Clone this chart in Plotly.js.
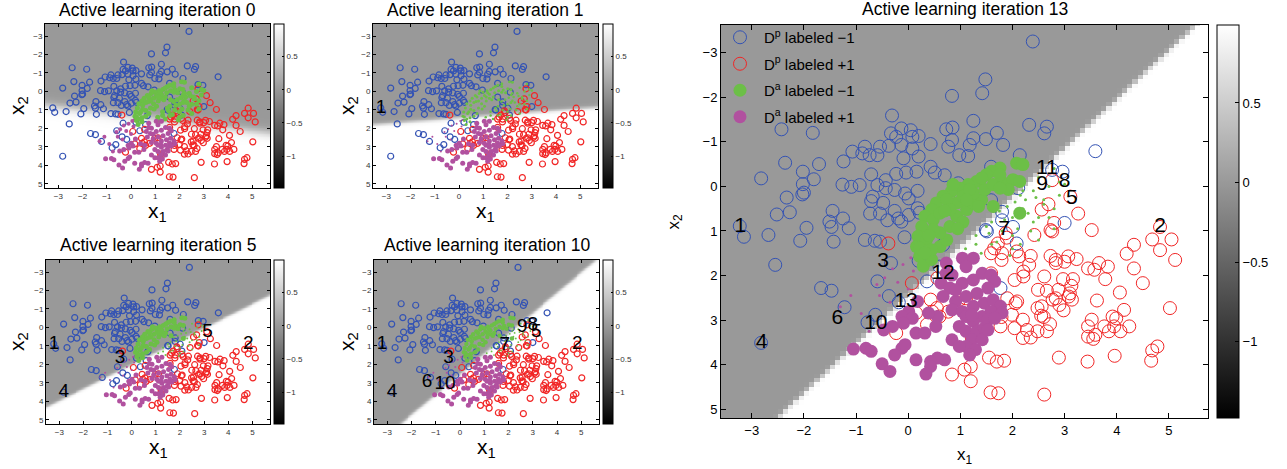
<!DOCTYPE html>
<html><head><meta charset="utf-8">
<script src="https://cdn.plot.ly/plotly-3.0.1.min.js"></script>
<style>html,body{margin:0;padding:0;background:#fff}#chart{width:1287px;height:469px}</style>
</head><body><div id="chart"></div>
<script>
// ---------------- data ----------------
const iterations = [0, 1, 5, 10, 13];
// decision boundary (two points on the line) and its softness
const boundaryStartX = [-3.55, -3.55, -3.55, -2.42, -2.50];
const boundaryStartY = [0.75, 1.80, 4.35, 5.20, 5.19];
const boundaryEndX = [5.73, 5.73, 5.73, 5.60, 5.52];
const boundaryEndY = [2.27, 0.85, -1.75, -3.65, -3.62];
const boundarySoftness = [0.15, 0.06, 0.04, 0.04, 0.02];

// D^p labeled -1 (blue open circles)
const dpNegX = [2.39,1.48,1.42,0.84,-0.31,1.25,-2.43,-1.83,2.32,2.66,2.61,0.73,0.85,-0.13,0.05,-0.33,-0.23,0.08,0.20,1.70,1.49,1.25,0.84,-0.13,-0.37,-0.54,-0.83,-1.07,-0.88,-0.74,-0.59,0.08,0.43,0.20,-0.09,0.77,1.18,0.98,1.15,1.82,2.14,3.59,-2.36,-1.71,-1.24,0.43,0.51,0.70,1.59,-2.02,-2.82,-1.81,-0.71,-0.23,-0.04,0.16,-0.43,-0.59,-0.43,-0.26,-1.26,-1.09,-0.93,-2.02,-2.00,-2.33,-2.03,-0.06,0.18,0.01,-0.68,-0.71,-0.48,-0.26,-0.73,-0.54,0.01,0.18,0.22,0.96,1.59,2.11,1.80,2.76,2.96,3.00,-2.52,-2.27,-1.45,-1.25,-1.51,-1.47,-1.14,-1.95,-3.23,-0.19,-0.13,-0.40,1.49,2.01,1.80,-3.15,-2.68,-2.07,-1.43,-0.83,-0.64,-0.54,-0.07,-2.55,-0.33,0.20,-0.59,-1.67,-1.47,-0.37,-1.22,-0.63,-0.78,-2.82,-0.18,0.36,0.67,1.51,2.08,1.77,0.60];
const dpNegY = [-3.25,-2.40,-2.09,-2.03,-1.59,-1.47,-1.28,-1.20,-1.38,-1.34,-1.19,-1.28,-1.32,-1.30,-1.26,-1.19,-1.11,-1.11,-1.13,-1.20,-1.06,-1.08,-1.04,-0.93,-0.91,-0.89,-0.89,-0.78,-0.74,-0.70,-0.70,-0.85,-0.95,-0.67,-0.63,-0.89,-0.93,-0.70,-0.68,-0.93,-0.70,-0.79,-0.53,-0.50,-0.56,-0.44,-0.31,-0.25,-0.44,-0.33,-0.18,-0.16,-0.27,-0.28,-0.31,-0.33,-0.14,-0.03,0.04,0.08,-0.04,0.01,-0.03,-0.05,0.14,0.25,0.18,0.16,0.10,0.27,0.23,0.33,0.37,0.55,0.61,0.61,0.64,0.49,0.59,-0.07,0.31,0.04,0.57,-0.37,-0.33,0.82,0.63,0.58,0.55,0.72,0.79,0.91,0.94,0.93,0.89,0.72,0.79,0.76,0.98,0.91,0.76,1.13,1.09,1.22,1.24,1.20,1.22,1.24,1.14,1.76,1.72,1.67,2.13,2.28,2.34,2.46,2.71,2.88,3.05,3.51,2.60,2.13,1.31,1.01,1.28,2.28,1.80];

// D^p labeled +1 (red open circles)
const dpPosX = [2.76,2.56,2.69,3.26,3.11,2.80,2.73,2.42,3.52,4.83,4.68,5.05,1.87,2.76,4.83,5.12,4.33,4.19,4.33,3.83,3.66,3.45,3.57,3.23,3.07,3.00,2.83,2.73,2.83,3.78,4.50,4.06,4.14,5.02,3.62,3.16,3.13,2.97,3.10,3.14,3.08,2.88,2.83,2.90,2.98,2.61,2.49,2.66,2.77,2.56,2.48,2.55,2.60,2.72,2.66,2.48,2.35,2.28,2.20,1.99,2.04,2.09,2.06,1.90,2.21,2.04,2.21,2.32,2.35,2.13,2.08,1.79,1.80,1.65,1.59,1.72,1.89,3.95,3.92,3.99,3.76,3.85,4.07,4.24,3.96,4.68,4.78,4.66,3.45,3.45,3.59,3.55,3.52,3.44,2.89,2.61,1.84,1.70,1.55,1.58,1.73,1.20,1.08,1.20,0.84,1.22,1.25,1.77,1.79,2.20,-0.23,0.36,0.43,0.55,0.46,0.07,-0.38,0.56,1.11,0.77,0.60,0.15,0.98,1.63,1.59];
const dpPosY = [-0.14,0.52,0.40,0.61,0.23,0.82,0.98,1.09,0.98,0.91,1.19,1.19,1.05,1.01,1.43,1.65,1.31,1.51,1.84,1.80,1.72,1.84,1.87,1.63,1.57,1.69,1.72,1.56,1.65,2.08,2.17,2.38,2.77,2.73,2.56,2.08,2.23,2.08,2.40,2.54,2.47,2.32,2.51,2.66,2.78,2.02,2.32,2.34,2.54,2.69,2.73,2.90,2.93,3.09,3.25,3.25,3.39,3.22,2.99,2.88,3.18,2.58,2.62,2.51,2.02,2.10,1.91,1.76,1.56,1.57,1.46,1.65,1.50,1.39,1.50,1.28,1.15,3.14,2.92,2.96,3.14,3.25,3.25,3.14,3.80,3.68,3.59,3.91,3.14,3.37,3.33,3.42,2.99,3.93,3.84,4.67,3.91,3.93,3.84,4.62,4.64,4.37,4.11,4.04,4.22,3.40,3.48,3.14,2.93,3.40,3.29,3.10,2.54,2.73,2.81,2.17,1.28,2.06,2.51,2.81,2.92,2.84,2.54,2.68,1.95];

// D^a labeled -1 (green filled)
const daNegX = [2.08,2.20,1.76,1.60,1.50,1.31,1.15,0.99,0.83,0.67,0.54,0.45,0.32,0.26,0.19,0.16,0.22,0.29,0.45,0.61,0.74,0.61,0.80,0.93,1.12,1.25,1.41,0.93,1.05,1.25,1.47,1.63,1.82,2.01,2.14,1.92,1.76,1.41,1.18,0.74,0.48,0.35,0.22,0.45,0.80,2.14,1.63,1.12,0.48,0.86,1.76,0.32,0.61,1.05,0.70,0.95,1.35,0.40];
const daNegY = [-0.52,-0.49,-0.41,-0.34,-0.26,-0.11,-0.04,0.04,0.11,0.22,0.37,0.52,0.67,0.90,1.12,1.35,1.57,1.79,1.64,1.35,1.20,1.04,0.90,0.67,0.52,0.37,0.30,0.37,0.22,0.15,0.07,-0.04,-0.08,-0.15,-0.11,0.07,0.04,-0.19,0.07,0.30,0.75,1.20,1.38,1.42,0.52,0.60,0.45,0.30,0.97,-0.04,-0.26,1.49,0.60,0.80,0.55,0.95,0.45,1.10];
// D^a labeled -1 lying past the final boundary (tiny dots at iteration 13)
const daNegTinyX = [1.75,1.90,2.05,2.25,2.45,2.60,1.60,1.85,2.30,1.55,1.70,2.00,2.35,2.80,1.95,2.15,2.50,2.90,3.00,1.40,2.50,2.70,2.90,2.40,2.60,2.80,2.20,2.00,2.40,2.10,1.80,1.60,2.50,2.70,2.15,2.20,2.00,1.30,1.10,2.80,1.20,1.50,1.30];
const daNegTinyY = [0.55,0.45,0.35,0.30,0.25,0.40,0.80,0.75,0.60,1.05,1.25,1.10,1.00,0.95,1.55,1.30,0.70,0.20,-0.05,1.50,-0.20,0.00,-0.10,0.10,0.30,0.50,0.50,0.70,0.80,0.95,1.00,1.30,1.20,0.70,0.20,0.10,1.40,1.30,1.40,-0.40,1.60,0.90,1.10];

// D^a labeled +1 (magenta filled)
const daPosX = [1.04,1.25,1.11,0.84,0.63,0.80,1.04,1.25,1.42,1.59,1.66,1.53,1.32,1.11,0.91,0.84,1.04,1.25,1.46,1.63,1.77,1.59,1.42,1.25,1.11,0.98,1.11,1.32,1.46,1.53,1.80,1.66,1.22,1.11,1.29,1.18,1.42,0.84,0.98,0.70,0.56,0.43,0.43,0.34,0.15,0.56,0.39,0.18,0.01,-0.12,0.08,-0.09,0.15,0.32,0.53,-0.12,-0.06,-0.26,-0.30,-0.47,-0.50,-0.35,-0.81,-0.71,-1.05,0.73,0.73,1.53,1.22,0.67,0.91];
const daPosY = [1.61,1.61,1.80,1.99,2.17,2.28,2.17,2.10,1.95,1.99,2.13,2.28,2.40,2.47,2.58,2.77,2.81,2.69,2.62,2.54,2.69,2.81,2.92,3.03,2.92,3.14,3.25,3.25,3.18,2.99,2.84,2.96,3.44,3.59,3.66,3.78,3.44,3.44,3.59,3.89,3.85,3.93,4.04,4.21,3.89,2.92,2.84,2.58,2.81,2.92,2.96,3.07,3.29,3.29,3.14,3.63,3.55,3.78,3.14,3.22,3.98,4.15,3.63,3.70,3.65,1.95,1.72,3.22,2.88,2.47,2.32];
// D^a labeled +1 lying past the final boundary (tiny dots at iteration 13)
const daPosTinyX = [-0.45,-0.30,-0.10,0.05,0.15,-0.60,-1.10,-0.20,0.00,-0.75,-0.35,0.10,-1.30,-0.90,-0.55];
const daPosTinyY = [2.05,1.85,1.75,1.60,1.55,2.20,2.45,2.15,2.30,3.25,2.60,1.90,2.70,2.85,2.45];

// queried points (numbers) and their label positions
const queryLabels = ["1","2","3","4","5","6","7","8","9","10","11","12","13"];
const queryX = [-3.22,4.83,-0.48,-2.81,3.14,-1.36,1.84,3.00,2.57,-0.62,2.66,0.67,-0.04];
const queryY = [0.90,0.90,1.69,3.51,0.27,2.96,0.98,-0.10,-0.03,3.09,-0.40,1.95,2.58];

const colorbarTicks = [0.5, 0, -0.5, -1];

// ---------------- layout constants ----------------
const W = 1287, H = 469;
const panels = [
  {x0:45, x1:270, y0:24, y1:188, cb:274, cbw:10, big:false, titleY:10, xtY:212, ytX:18},
  {x0:373, x1:598, y0:24, y1:188, cb:603, cbw:10, big:false, titleY:10, xtY:212, ytX:348},
  {x0:46, x1:270, y0:260, y1:424, cb:274, cbw:10, big:false, titleY:245, xtY:448, ytX:18},
  {x0:374, x1:599, y0:260, y1:424, cb:603, cbw:10, big:false, titleY:245, xtY:448, ytX:348},
  {x0:721, x1:1208, y0:25, y1:418, cb:1217, cbw:22, big:true, titleY:9, xtY:456, ytX:674}
];
// marker sizes of the D^a dots per panel: [main green, main magenta, tiny green, tiny magenta]
const daSizes = [[5,5,5,4],[3,5,2.5,2],[5,5,2,2],[4.5,5,1.8,2],[13,13,3,3]];
const ZMIN = -1.48, ZMAX = 0.99;
const BLUE = '#3453b4', RED = '#f12626', GREEN = '#6cbf47', MAG = '#b1519f';
const FONT = 'Liberation Sans, Arial, Helvetica, sans-serif';

function fx(p){return p/W;}
function fy(p){return 1 - p/H;}

function field(k, step){
  const ax = boundaryStartX[k], ay = boundaryStartY[k], bx = boundaryEndX[k], by = boundaryEndY[k];
  const dx = bx-ax, dy = by-ay, len = Math.hypot(dx,dy);
  const sd = (x,y) => ((x-ax)*dy - (y-ay)*dx)/len;
  const sgn = Math.sign(sd(5.5,5.0));
  const w = boundarySoftness[k];
  const gx = [], gy = [];
  for (let x = -3.75; x <= 5.95; x += step) gx.push(+x.toFixed(3));
  for (let y = -3.85; y <= 5.45; y += step) gy.push(+y.toFixed(3));
  const z = gy.map(y => gx.map(x => ZMAX/(1+Math.exp(-sgn*sd(x,y)/w))));
  return {gx, gy, z};
}

const traces = [];
const annotations = [];
const layout = {
  width: W, height: H, margin:{l:0,r:0,t:0,b:0},
  paper_bgcolor:'#fff', plot_bgcolor:'#fff',
  font:{family:FONT, color:'#000'},
  showlegend:true,
  legend:{x:fx(716), y:fy(21), xanchor:'left', yanchor:'top', bgcolor:'rgba(0,0,0,0)',
          font:{size:15, family:FONT, color:'#000'}, tracegroupgap:4, itemsizing:'trace', itemwidth:38},
  annotations
};

const qCount = {0:0, 1:1, 5:5, 10:10, 13:13};

panels.forEach((p, k) => {
  const it = iterations[k];
  const xa = k===0 ? 'x' : 'x'+(k+1);
  const ya = k===0 ? 'y' : 'y'+(k+1);
  const big = p.big;
  const tickSize = big ? 13 : 8;
  const f = field(k, big ? 0.1 : 0.04);
  traces.push({
    type:'heatmap', x:f.gx, y:f.gy, z:f.z, xaxis:xa, yaxis:ya,
    zmin:ZMIN, zmax:ZMAX, colorscale:[[0,'#000'],[1,'#fff']], zsmooth:false,
    hoverinfo:'skip', showscale:true,
    colorbar:{x:fx(p.cb), xanchor:'left', xpad:0, ypad:0, thickness:p.cbw, thicknessmode:'pixels',
      len:(p.y1-p.y0)/H, lenmode:'fraction', y:fy((p.y0+p.y1)/2), yanchor:'middle',
      tickvals:colorbarTicks, ticks:'inside', ticklen: big?4:2, tickcolor:'#000',
      outlinewidth:1, outlinecolor:'#000', tickfont:{size:tickSize, family:FONT, color:big?'#000':'#333'}}
  });
  const ms = big ? 13 : 6;
  const lw = big ? 1 : 1.2;
  const s = daSizes[k];
  traces.push({type:'scatter', mode:'markers', x:dpNegX, y:dpNegY, xaxis:xa, yaxis:ya, name:'D<sup>p</sup> labeled −1',
    legendgroup:'a', showlegend:big, hoverinfo:'skip', marker:{symbol:'circle-open', size:ms, color:BLUE, line:{width:lw, color:BLUE}}});
  traces.push({type:'scatter', mode:'markers', x:dpPosX, y:dpPosY, xaxis:xa, yaxis:ya, name:'D<sup>p</sup> labeled +1',
    legendgroup:'b', showlegend:big, hoverinfo:'skip', marker:{symbol:'circle-open', size:ms, color:RED, line:{width:lw, color:RED}}});
  traces.push({type:'scatter', mode:'markers', x:daNegTinyX, y:daNegTinyY, xaxis:xa, yaxis:ya,
    showlegend:false, hoverinfo:'skip', marker:{symbol:'circle', size:s[2], color:GREEN, line:{width:0}}});
  traces.push({type:'scatter', mode:'markers', x:daPosTinyX, y:daPosTinyY, xaxis:xa, yaxis:ya,
    showlegend:false, hoverinfo:'skip', marker:{symbol:'circle', size:s[3], color:MAG, line:{width:0}}});
  traces.push({type:'scatter', mode:'markers', x:daNegX, y:daNegY, xaxis:xa, yaxis:ya, name:'D<sup>a</sup> labeled −1',
    legendgroup:'c', showlegend:big, hoverinfo:'skip', marker:{symbol:'circle', size:s[0], color:GREEN, line:{width:0}}});
  traces.push({type:'scatter', mode:'markers', x:daPosX, y:daPosY, xaxis:xa, yaxis:ya, name:'D<sup>a</sup> labeled +1',
    legendgroup:'d', showlegend:big, hoverinfo:'skip', marker:{symbol:'circle', size:s[1], color:MAG, line:{width:0}}});
  const n = qCount[it];
  if (n > 0) {
    traces.push({type:'scatter', mode:'text', x:queryX.slice(0,n), y:queryY.slice(0,n), text:queryLabels.slice(0,n),
      xaxis:xa, yaxis:ya, showlegend:false, hoverinfo:'skip', textposition:'middle center',
      textfont:{size:big?21:19, family:FONT, color:'#000'}, cliponaxis:false});
  }
  const axCommon = {showgrid:false, zeroline:false, showline:true, linecolor:'#000', linewidth:1,
    mirror:'ticks', ticks:'inside', ticklen: big?5:3, tickcolor:'#000', dtick:1, tick0:0,
    tickfont:{size:tickSize, family:FONT, color:big?'#000':'#333'}, fixedrange:true};
  layout['xaxis'+(k===0?'':k+1)] = Object.assign({}, axCommon, {
    domain:[fx(p.x0), fx(p.x1)], anchor:ya, range: big?[-3.59,5.75]:[-3.55,5.73]});
  layout['yaxis'+(k===0?'':k+1)] = Object.assign({}, axCommon, {
    domain:[fy(p.y1), fy(p.y0)], anchor:xa, range: big?[5.195,-3.62]:[5.23,-3.65]});
  annotations.push({xref:'paper', yref:'paper', x:fx((p.x0+p.x1)/2), y:fy(p.titleY), xanchor:'center', yanchor:'middle',
    text:'Active learning iteration '+it, showarrow:false, font:{size:17.5, family:FONT, color:'#000'}});
  annotations.push({xref:'paper', yref:'paper', x:fx((p.x0+p.x1)/2), y:fy(p.xtY), xanchor:'center', yanchor:'middle',
    text:'x<sub>1</sub>', showarrow:false, font:{size:big?17:21, family:FONT, color:'#000'}});
  annotations.push({xref:'paper', yref:'paper', x:fx(p.ytX), y:fy((p.y0+p.y1)/2), xanchor:'center', yanchor:'middle',
    text:'x<sub>2</sub>', textangle:-90, showarrow:false, font:{size:big?17:21, family:FONT, color:'#000'}});
});

Plotly.newPlot('chart', traces, layout, {displayModeBar:false, staticPlot:true});
</script></body></html>
